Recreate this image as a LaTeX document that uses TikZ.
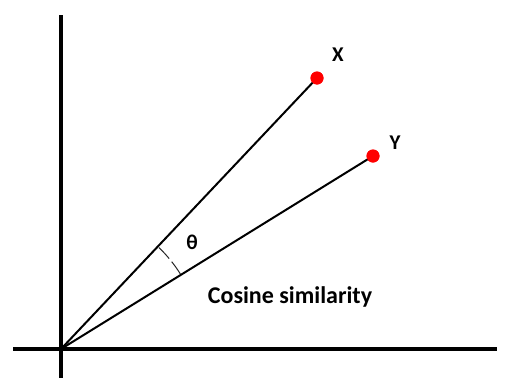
\documentclass[tikz,border=0pt]{standalone}
\usepackage{fontspec}
\setmainfont{Carlito}
\begin{document}
\begin{tikzpicture}[x=1pt,y=-1pt,
  axis/.style={line width=3.2pt,black},
  vec/.style={line width=2pt,black},
  dot/.style={circle,fill=red,minimum width=13pt,minimum height=11pt,inner sep=0pt},
  lbl/.style={font=\bfseries\fontsize{21}{24}\selectfont}]
\useasboundingbox (0,0) rectangle (512,378);
\coordinate (O) at (61,349);
\coordinate (top) at (61,15);
\coordinate (bot) at (61,378);
\coordinate (left) at (13,349);
\coordinate (right) at (497,349);
\draw[axis] (top) -- (bot);
\draw[axis] (left) -- (right);
\node[dot] (X) at (317,78) {};
\node[dot] (Y) at (373,156) {};
\draw[vec] (O) -- (X.center);
\draw[vec] (O) -- (Y.center);
\node[dot] at (317,78) {};
\node[dot] at (373,156) {};
\node[lbl] (lx) at (338,55) {X};
\node[lbl] (ly) at (395,143) {Y};
\node[lbl] (th) at (192,242) {θ};
\draw[line width=1pt,dash pattern=on 15pt off 4pt,black!85] (O) ++(46:141pt) arc[start angle=46,end angle=32,radius=141pt];
\node[font=\bfseries\fontsize{24}{28}\selectfont] (cs) at (290,297) {Cosine similarity};
\end{tikzpicture}
\end{document}
